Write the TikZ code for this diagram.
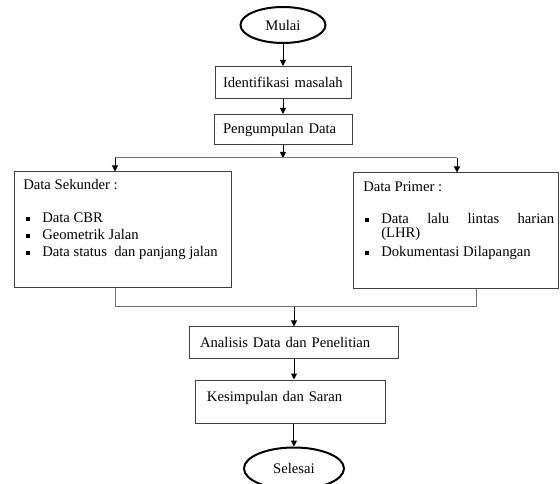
\documentclass[tikz,border=0pt]{standalone}
\usepackage{fontspec}
\setmainfont{Liberation Serif}
\usetikzlibrary{shapes.geometric,arrows.meta,positioning}
\newcommand{\itm}{\makebox[12pt][l]{\rule[1.8pt]{3pt}{3pt}}}

\begin{document}
\begin{tikzpicture}[
    x=0.75pt, y=-0.75pt,
    every node/.style={font=\fontsize{11}{13.2}\selectfont},
    term/.style={ellipse, draw=black, line width=1.5pt, inner sep=0pt},
    proc/.style={rectangle, draw=black!75, line width=0.75pt, inner ysep=0pt,
        align=left},
    txt/.style={anchor=base west, inner sep=0pt},
    arr/.style={-{Triangle[length=4.5pt,width=4.5pt]}, line width=0.75pt},
    link/.style={draw=black!55, line width=0.75pt}
]
    \useasboundingbox (0,0) rectangle (560,484);

    % Start and first steps
    \node[term, minimum width=63.75pt, minimum height=27pt] (mulai) at (283,25) {Mulai};
    \node[proc, below=16.5pt of mulai, inner xsep=6pt, text width=90pt,
        minimum height=24pt] (idm) {Identifikasi masalah};
    \node[proc, below=11.25pt of idm, inner xsep=6.75pt, text width=90pt,
        minimum height=22.5pt] (pd) {Pengumpulan Data};

    % Data boxes
    \node[proc, minimum width=162.75pt, minimum height=87pt] (sek) at (122.5,230) {};
    \node[proc, minimum width=153.75pt, minimum height=87pt] (prim) at (455.5,231) {};

    \node[txt] (sekT) at (23,190) {Data Sekunder :};
    \node[txt] (sek1) at (26,223) {\itm Data CBR};
    \node[txt] (sek2) at (26,240) {\itm Geometrik Jalan};
    \node[txt] (sek3) at (26,257) {\itm Data status~ dan panjang jalan};

    \node[txt] (primT) at (363,192) {Data Primer :};
    \node[txt] (prim1) at (365,224) {\itm\makebox[129.75pt][s]{Data lalu lintas harian}};
    \node[txt] (prim1b) at (381,238) {(LHR)};
    \node[txt] (prim2) at (365,257) {\itm Dokumentasi Dilapangan};

    % Analysis and end
    \node[proc, inner xsep=8.25pt, text width=140.25pt, minimum height=23.25pt]
        (ana) at (293.5,342.5) {Analisis Data dan Penelitian};
    \node[proc, below=15.75pt of ana, xshift=-1.9pt, inner xsep=8.25pt,
        text width=126pt, text height=15.75pt, text depth=16.5pt]
        (ks) {Kesimpulan dan Saran};
    \node[term, below=17.25pt of ks, xshift=2.25pt, minimum width=75pt,
        minimum height=31.5pt] (sel) {Selesai};

    % Branch points
    \coordinate (split) at (283,158);
    \coordinate (splitL) at (115,158);
    \coordinate (splitR) at (457,158);
    \coordinate (joinL) at (115,307);
    \coordinate (joinR) at (476,307);
    \coordinate (join) at (294,307);

    % Arrows
    \draw[arr] (mulai) -- (idm);
    \draw[arr] (idm) -- (pd);
    \draw[arr] (pd.south) -- (split);
    \draw[link] (splitL) -- (splitR);
    \draw[arr] (splitL) -- (splitL |- sek.north);
    \draw[arr] (splitR) -- (splitR |- prim.north);
    \draw[link] (sek.south -| joinL) -- (joinL) -- (joinR) -- (prim.south -| joinR);
    \draw[arr] (join) -- (join |- ana.north);
    \draw[arr] (ana.south -| join) -- (join |- ks.north);
    \draw[arr] (ks.south -| sel) -- (sel);
\end{tikzpicture}
\end{document}
